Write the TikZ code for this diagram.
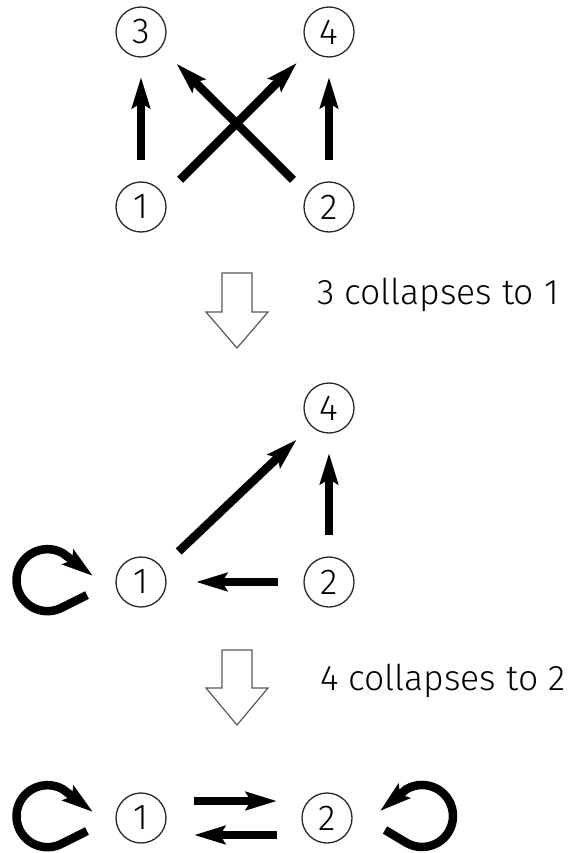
\documentclass[tikz,border=0pt]{standalone}
\usepackage{fontspec}
\setmainfont{Fira Sans Light}
\usetikzlibrary{arrows.meta,calc}
\begin{document}
\begin{tikzpicture}[x=1pt,y=-1pt,
  vtx/.style={circle,draw=black!85,line width=1.3pt,minimum size=50pt,inner sep=0pt,font=\fontsize{36}{36}\selectfont},
  arr/.style={line width=8.5pt,-{Stealth[length=31pt,width=18pt,inset=5pt]}},
  hollow/.style={draw=black!65,line width=1.2pt,fill=white},
  lbl/.style={anchor=west,inner sep=0pt,font=\fontsize{35.5}{36}\selectfont}]
\useasboundingbox (0,0) rectangle (573,853);
% top graph
\node[vtx] (t3) at (141,32) {3};
\node[vtx] (t4) at (329,32) {4};
\node[vtx] (t1) at (141,207) {1};
\node[vtx] (t2) at (329,207) {2};
\draw[arr,shorten <=21.35pt,shorten >=19.35pt] (t1.north) -- (t3.south);
\draw[arr,shorten <=21.35pt,shorten >=19.35pt] (t2.north) -- (t4.south);
\draw[arr,shorten <=22.6pt,shorten >=19pt] (t1.26) -- (t4.223);
\draw[arr,shorten <=19.7pt,shorten >=22pt] (t2.149) -- (t3.-39);
% first hollow arrow and label
\draw[hollow] (222,273) -- (252,273) -- (252,312) -- (268,312) -- (237,348) -- (206,312) -- (222,312) -- cycle;
\node[lbl] (l1) at (317,295) {3 collapses to 1};
% middle graph
\node[vtx] (m4) at (329,408) {4};
\node[vtx] (m1) at (141,582) {1};
\node[vtx] (m2) at (329,582) {2};
\draw[arr,shorten <=23pt,shorten >=19.6pt] (m1.35) -- (m4.225);
\draw[arr,shorten <=21.35pt,shorten >=19.35pt] (m2.north) -- (m4.south);
\draw[arr,shorten <=25.35pt,shorten >=29.35pt] (m2.west) -- (m1.east);
\draw[arr] ($(m1)+(-54,13)$) -- ($(m1)+(-78,25)$) arc[start angle=60,end angle=300,radius=31] -- ($(m1)+(-48,-6)$);
% second hollow arrow and label
\draw[hollow] (222,650) -- (252,650) -- (252,688) -- (268,688) -- (237,725) -- (206,688) -- (222,688) -- cycle;
\node[lbl] (l2) at (320,681) {4 collapses to 2};
% bottom graph
\node[vtx] (b1) at (141,818) {1};
\node[vtx] (b2) at (327,818) {2};
\draw[arr,shorten <=27.35pt,shorten >=24.35pt] ([yshift=17pt]b1.east) -- ([yshift=17pt]b2.west);
\draw[arr,shorten <=24.35pt,shorten >=27.35pt] ([yshift=-17pt]b2.west) -- ([yshift=-17pt]b1.east);
\draw[arr] ($(b1)+(-54,13)$) -- ($(b1)+(-78,25)$) arc[start angle=60,end angle=300,radius=31] -- ($(b1)+(-48,-6)$);
\draw[arr] ($(b2)+(58,12)$) -- ($(b2)+(79.5,24.8)$) arc[start angle=120,end angle=-120,radius=31] -- ($(b2)+(53,-7)$);
\end{tikzpicture}
\end{document}
